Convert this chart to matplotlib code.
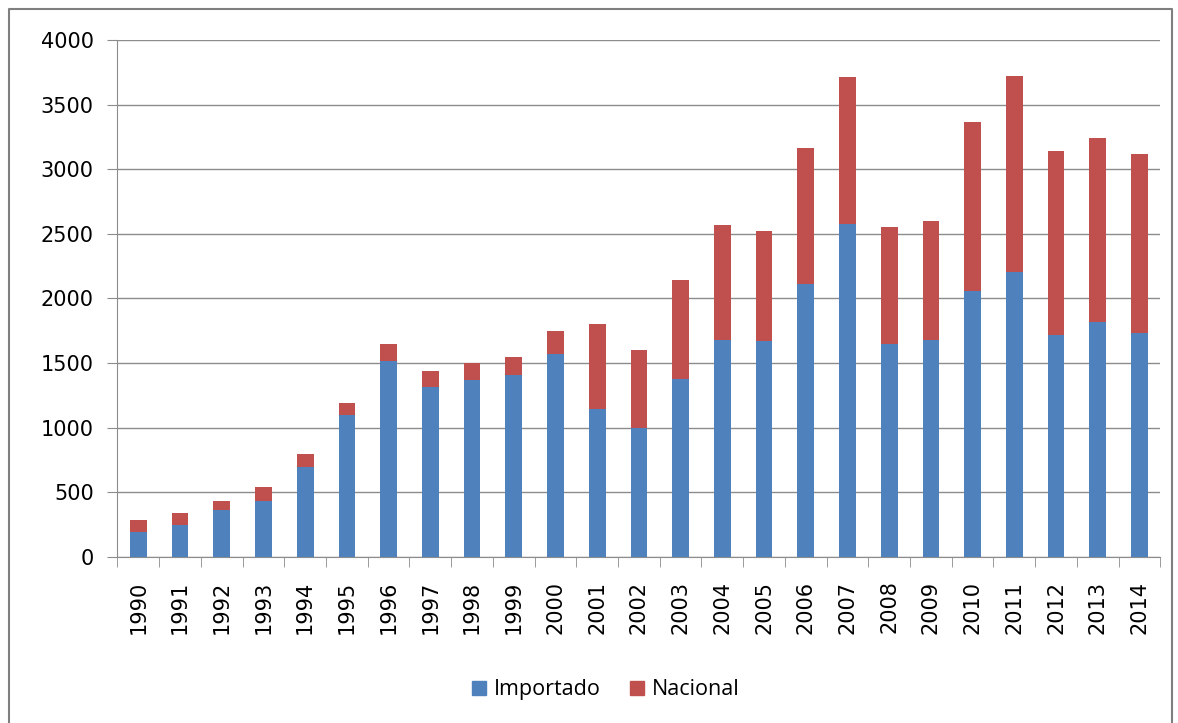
import numpy as np
import matplotlib
matplotlib.use('Agg')
import matplotlib.pyplot as plt
from matplotlib.lines import Line2D

# Data
years = [str(y) for y in range(1990, 2015)]
importado = [190, 250, 360, 430, 695, 1095, 1520, 1315, 1370, 1410,
             1570, 1145, 995, 1375, 1680, 1670, 2115, 2575, 1650, 1680,
             2055, 2205, 1720, 1820, 1730]
total = [290, 340, 430, 540, 795, 1195, 1650, 1440, 1500, 1550,
         1750, 1800, 1600, 2145, 2570, 2520, 3165, 3715, 2550, 2600,
         3365, 3725, 3140, 3240, 3115]
nacional = [t - i for t, i in zip(total, importado)]

blue = '#4F81BD'
red = '#C0504D'
grid_c = '#8C8C8C'

fig = plt.figure(figsize=(11.78, 7.23), dpi=100)
ax = fig.add_axes([0.0997, 0.2296, 0.8853, 0.7151])

x = np.arange(len(years))
ax.bar(x, importado, width=0.4, color=blue, label='Importado', zorder=3)
ax.bar(x, nacional, width=0.4, bottom=importado, color=red, label='Nacional', zorder=3)

ax.set_ylim(0, 4000)
ax.set_xlim(-0.5, len(years) - 0.5)
ax.set_yticks(np.arange(0, 4001, 500))
ax.yaxis.grid(True, color=grid_c, linewidth=1.0, zorder=0)
ax.set_axisbelow(True)

# labels at bar centres, tick marks at category boundaries
ax.set_xticks(x)
ax.set_xticklabels(years, rotation=90, fontsize=15)
ax.tick_params(axis='x', which='major', length=0, pad=17)
ax.set_xticks(np.arange(-0.5, len(years), 1), minor=True)
ax.tick_params(axis='x', which='minor', length=7, color=grid_c, direction='out')
ax.tick_params(axis='y', length=7, color=grid_c, labelsize=15, pad=10)

for s in ['top', 'right']:
    ax.spines[s].set_visible(False)
for s in ['left', 'bottom']:
    ax.spines[s].set_color(grid_c)

handles = [Line2D([], [], marker='s', linestyle='', markersize=10, color=blue),
           Line2D([], [], marker='s', linestyle='', markersize=10, color=red)]
fig.legend(handles, ['Importado', 'Nacional'], loc='center', bbox_to_anchor=(0.514, 0.046),
           ncol=2, frameon=False, handlelength=0.7, handletextpad=0.35, columnspacing=1.3,
           prop={'family': 'Open Sans', 'size': 15.5})

# outer chart border
fig.add_artist(Line2D([9 / 1178, 9 / 1178, 1172 / 1178, 1172 / 1178],
                      [0, 1 - 9 / 723, 1 - 9 / 723, 0],
                      transform=fig.transFigure, color='#7F7F7F', linewidth=1.5))

fig.savefig('out.png', dpi=100)
